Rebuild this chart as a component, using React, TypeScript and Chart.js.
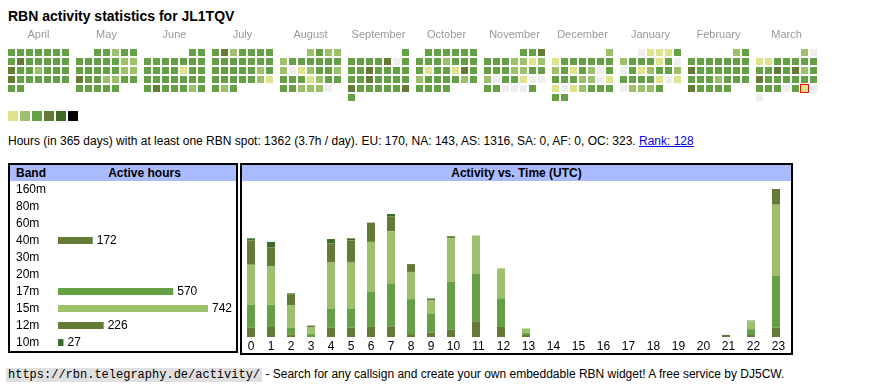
import React, { useEffect, useRef } from "react";
import { Chart, registerables } from "chart.js";

Chart.register(...registerables);

const FONT = "'Liberation Sans', Arial, Helvetica, sans-serif";
Chart.defaults.font.family = FONT;

const TITLE = "RBN activity statistics for JL1TQV";

// ---- calendar heatmap data (level per day, one string per week row) ----
const MONTHS = ["April", "May", "June", "July", "August", "September", "October", "November", "December", "January", "February", "March"];
const MONTH_FIRST = ["2024-04", "2024-05", "2024-06", "2024-07", "2024-08", "2024-09", "2024-10", "2024-11", "2024-12", "2025-01", "2025-02", "2025-03"];
const APR = ["3333333", "3433333", "4332333", "4333333", "33"];
const MAY = ["33233", "3333322", "3333322", "4332233", "33333"];
const JUN = ["33", "3333333", "3333133", "3333333", "3433323"];
const JUL = ["3423333", "3333333", "3333323", "3333321", "323"];
const AUG = ["2322", "2333333", "2012332", "3331233", "332220"];
const SEP = ["3", "3333403", "3343333", "3343333", "4333334", "3"];
const OCT = ["333333", "3332333", "3133143", "2333323", "3333"];
const NOV = ["334", "3332212", "3332233", "2033100", "330003"];
const DEC = ["2", "1333333", "2313203", "3332201", "1012333", "33"];
const JAN = ["01113", "2333130", "0312332", "3333101", "02223"];
const FEB = ["23", "3333333", "4333333", "3332333", "43333"];
const MAR = ["20", "1133333", "3343423", "4333333", "3330310", "0"];
const DAY_LEVELS = [APR, MAY, JUN, JUL, AUG, SEP, OCT, NOV, DEC, JAN, FEB, MAR];
const TODAY_MONTH = 11;
const TODAY_DAY = 29;
const LEVEL_COLORS = ["#eeeeee", "#dde48b", "#9dc16b", "#66a045", "#667a38", "#3d6b29", "#000000"];

const SUMMARY = "Hours (in 365 days) with at least one RBN spot: 1362 (3.7h / day). EU: 170, NA: 143, AS: 1316, SA: 0, AF: 0, OC: 323. ";
const RANK = "Rank: 128";

// ---- band table ----
const BANDS = ["160m", "80m", "60m", "40m", "30m", "20m", "17m", "15m", "12m", "10m"];
const BAND_HOURS = [0, 0, 0, 172, 0, 0, 570, 742, 226, 27];
const BAND_COLORS = ["#999999", "#999999", "#999999", "#667a38", "#999999", "#999999", "#66a045", "#9dc16b", "#667a38", "#3d6b29"];

// ---- activity vs time ----
const HOURS = ["0", "1", "2", "3", "4", "5", "6", "7", "8", "9", "10", "11", "12", "13", "14", "15", "16", "17", "18", "19", "20", "21", "22", "23"];
const ACT_BANDS = ["40m", "17m", "15m", "12m", "10m"];
const ACT_40M = [13, 14, 3, 0, 13, 13, 14, 15, 4, 6, 10, 22, 14, 3, 0, 0, 0, 0, 0, 0, 0, 3, 4, 13];
const ACT_17M = [32, 31, 10, 4, 27, 27, 49, 60, 49, 27, 67, 67, 40, 3, 0, 0, 0, 0, 0, 0, 0, 0, 7, 73];
const ACT_15M = [56, 54, 31, 10, 64, 64, 70, 73, 38, 18, 61, 53, 42, 6, 0, 0, 0, 0, 0, 0, 0, 0, 11, 99];
const ACT_12M = [34, 26, 16, 2, 27, 31, 27, 21, 11, 3, 3, 0, 0, 0, 0, 0, 0, 0, 0, 0, 0, 0, 1, 22];
const ACT_10M = [3, 8, 1, 0, 6, 3, 0, 3, 0, 0, 0, 0, 0, 0, 0, 0, 0, 0, 0, 0, 0, 0, 0, 0];
const ACT_SERIES = [ACT_40M, ACT_17M, ACT_15M, ACT_12M, ACT_10M];
const ACT_COLORS = ["#667a38", "#66a045", "#9dc16b", "#667a38", "#3d6b29"];

const FOOTER_URL = "https://rbn.telegraphy.de/activity/";
const FOOTER_TEXT = " - Search for any callsign and create your own embeddable RBN widget! A free service by DJ5CW.";

function Heatmap() {
  const ref = useRef<HTMLCanvasElement>(null);
  useEffect(() => {
    const CELL = 9;
    const GAP = 5;
    const BLOCK = 7 * CELL + GAP;
    const pts: { x: number; y: number }[] = [];
    const bg: string[] = [];
    const bc: string[] = [];
    const bw: number[] = [];
    const rad: number[] = [];
    DAY_LEVELS.forEach((weeks, m) => {
      const levels = weeks.join("");
      const [yr, mo] = MONTH_FIRST[m].split("-").map(Number);
      const start = (new Date(yr, mo - 1, 1).getDay() + 6) % 7;
      for (let d = 0; d < levels.length; d++) {
        const slot = start + d;
        const col = slot % 7;
        const row = Math.floor(slot / 7);
        pts.push({ x: m * BLOCK + col * CELL + 3.5, y: row * CELL + 7.5 });
        bg.push(LEVEL_COLORS[Number(levels[d])]);
        const today = m === TODAY_MONTH && d + 1 === TODAY_DAY;
        bc.push(today ? "#ff0000" : "rgba(0,0,0,0)");
        bw.push(today ? 1 : 0);
        rad.push(today ? 4 * Math.SQRT2 : 3.5 * Math.SQRT2);
      }
    });
    const centers = MONTHS.map((_, m) => m * BLOCK + 30.5);
    const chart = new Chart(ref.current!, {
      type: "scatter",
      data: {
        datasets: [
          {
            data: pts,
            pointStyle: "rect",
            pointRadius: rad,
            pointHoverRadius: rad,
            pointBackgroundColor: bg,
            pointBorderColor: bc,
            pointBorderWidth: bw,
            pointHoverBorderWidth: bw,
          } as any,
        ],
      },
      options: {
        animation: false,
        responsive: false,
        events: [],
        layout: { autoPadding: false, padding: { left: 8, right: 0, top: 0, bottom: 0 } },
        plugins: { legend: { display: false }, tooltip: { enabled: false } },
        scales: {
          x: {
            type: "linear",
            position: "top",
            min: 0,
            max: 862,
            grid: { display: false, drawTicks: false },
            border: { display: false },
            ticks: {
              font: { size: 11, family: FONT },
              color: "#999999",
              padding: 3,
              autoSkip: false,
              maxRotation: 0,
              callback: (_v: any, i: number) => MONTHS[i],
            },
            afterBuildTicks: (s: any) => {
              s.ticks = centers.map((c) => ({ value: c }));
            },
            afterFit: (s: any) => {
              s.height = 19;
            },
          },
          y: { type: "linear", display: false, reverse: true, min: 0, max: 57 },
        },
      } as any,
    });
    return () => chart.destroy();
  }, []);
  return <canvas ref={ref} width={870} height={76} style={{ position: "absolute", left: 0, top: 26, width: 870, height: 76 }} />;
}

function BandChart() {
  const ref = useRef<HTMLCanvasElement>(null);
  useEffect(() => {
    const valueLabels = {
      id: "valueLabels",
      afterDatasetsDraw(chart: any) {
        const ctx = chart.ctx;
        const meta = chart.getDatasetMeta(0);
        ctx.save();
        ctx.font = `12px ${FONT}`;
        ctx.fillStyle = "#000";
        ctx.textBaseline = "middle";
        ctx.textAlign = "left";
        meta.data.forEach((bar: any, i: number) => {
          const v = BAND_HOURS[i];
          if (v > 0) ctx.fillText(String(v), bar.x + 4, bar.y);
        });
        ctx.restore();
      },
    };
    const chart = new Chart(ref.current!, {
      type: "bar",
      data: {
        labels: BANDS,
        datasets: [{ data: BAND_HOURS, backgroundColor: BAND_COLORS, barThickness: 7, borderWidth: 0, inflateAmount: 0 } as any],
      },
      options: {
        indexAxis: "y",
        animation: false,
        responsive: false,
        events: [],
        layout: { autoPadding: false, padding: { left: 0, right: 28, top: 0, bottom: 0 } },
        plugins: { legend: { display: false }, tooltip: { enabled: false } },
        scales: {
          x: { display: false, min: 0, max: Math.max(...BAND_HOURS) },
          y: {
            grid: { display: false, drawTicks: false },
            border: { display: false },
            ticks: { font: { size: 12, family: FONT }, color: "#000", crossAlign: "far", padding: 0, autoSkip: false },
            afterFit: (s: any) => {
              s.width = 42;
              s.paddingTop = 0;
              s.paddingBottom = 0;
            },
          },
        },
      } as any,
      plugins: [valueLabels],
    });
    return () => chart.destroy();
  }, []);
  return <canvas ref={ref} width={220} height={170} style={{ position: "absolute", left: 16, top: 181, width: 220, height: 170 }} />;
}

function ActivityChart() {
  const ref = useRef<HTMLCanvasElement>(null);
  useEffect(() => {
    // each hour occupies a table cell whose width grows with its label;
    // the bar sits at a fixed offset from the cell's left edge, the label is centred
    const barX: number[] = [];
    const labelX: number[] = [];
    let acc = 0;
    HOURS.forEach((h) => {
      const w = 15 + 5 * h.length;
      barX.push(acc + 10);
      labelX.push(acc + w / 2);
      acc += w;
    });
    const totals = HOURS.map((_, i) => ACT_SERIES.reduce((s, arr) => s + arr[i], 0));
    const maxTotal = Math.max(...totals);
    const chart = new Chart(ref.current!, {
      type: "bar",
      data: {
        datasets: ACT_SERIES.map((vals, k) => ({
          label: ACT_BANDS[k],
          data: vals.map((v, i) => ({ x: barX[i], y: v })),
          backgroundColor: ACT_COLORS[k],
          barThickness: 8,
          borderWidth: 0,
          inflateAmount: 0,
        })),
      },
      options: {
        animation: false,
        responsive: false,
        events: [],
        layout: { autoPadding: false, padding: { left: 0, right: 0, top: 8, bottom: 0 } },
        plugins: { legend: { display: false }, tooltip: { enabled: false } },
        scales: {
          x: {
            type: "linear",
            offset: false,
            stacked: true,
            min: 0,
            max: acc,
            grid: { display: false, drawTicks: false },
            border: { display: false },
            ticks: {
              font: { size: 12, family: FONT },
              color: "#000",
              padding: 2,
              autoSkip: false,
              maxRotation: 0,
              callback: (_v: any, i: number) => HOURS[i],
            },
            afterBuildTicks: (s: any) => {
              s.ticks = labelX.map((c) => ({ value: c }));
            },
            afterFit: (s: any) => {
              s.height = 16;
            },
          },
          y: { stacked: true, display: false, min: 0, max: maxTotal },
        },
      } as any,
    });
    return () => chart.destroy();
  }, []);
  return <canvas ref={ref} width={550} height={172} style={{ position: "absolute", left: 241, top: 181, width: 550, height: 172 }} />;
}

export default function App() {
  const abs = (s: React.CSSProperties): React.CSSProperties => ({ position: "absolute", ...s });
  return (
    <div style={{ position: "absolute", left: 0, top: 0, width: 870, height: 390, fontFamily: FONT, color: "#000", background: "#fff", overflow: "hidden" }}>
      <div style={abs({ left: 8, top: 7, fontSize: 14, fontWeight: "bold", lineHeight: "18px", whiteSpace: "nowrap" })}>{TITLE}</div>
      <Heatmap />
      {LEVEL_COLORS.slice(1).map((c, i) => (
        <div key={i} style={abs({ left: 8 + 12 * i, top: 111, width: 10, height: 10, background: c })} />
      ))}
      <div style={abs({ left: 8, top: 133, fontSize: 12, lineHeight: "16px", whiteSpace: "nowrap" })}>
        {SUMMARY}
        <a href="#" style={{ color: "#0000ee", textDecoration: "underline" }}>{RANK}</a>
      </div>
      <div style={abs({ left: 8, top: 163, width: 230, height: 190, border: "2px solid #000", boxSizing: "border-box" })}>
        <div style={abs({ left: 0, top: 0, right: 0, height: 16, background: "#aabbff" })} />
        <div style={abs({ left: 6, top: 0, fontSize: 12, fontWeight: "bold", lineHeight: "16px" })}>Band</div>
        <div style={abs({ left: 43, top: 0, width: 183, textAlign: "center", fontSize: 12, fontWeight: "bold", lineHeight: "16px" })}>Active hours</div>
      </div>
      <div style={abs({ left: 240, top: 163, width: 553, height: 192, border: "2px solid #000", boxSizing: "border-box" })}>
        <div style={abs({ left: 0, top: 0, right: 0, height: 16, background: "#aabbff", textAlign: "center", fontSize: 12, fontWeight: "bold", lineHeight: "16px" })}>
          Activity vs. Time (UTC)
        </div>
      </div>
      <BandChart />
      <ActivityChart />
      <div style={abs({ left: 6, top: 366, fontSize: 12, lineHeight: "16px", whiteSpace: "nowrap" })}>
        <span style={{ fontFamily: "'Liberation Mono', 'DejaVu Sans Mono', monospace", background: "#e0e0e0", padding: "0 2px", fontSize: 12 }}>{FOOTER_URL}</span>
        {FOOTER_TEXT}
      </div>
    </div>
  );
}
